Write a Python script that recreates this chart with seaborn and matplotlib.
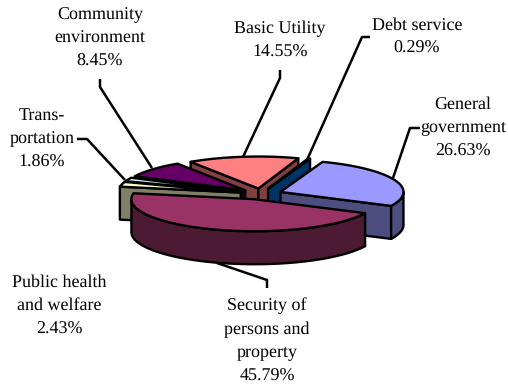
import numpy as np
import pandas as pd
import matplotlib
matplotlib.use("Agg")
import matplotlib.pyplot as plt
from matplotlib.patches import Polygon
import seaborn as sns

# Budget shares, in clockwise order from the back right of the pie
categories = ["General\ngovernment", "Security of\npersons and\nproperty",
              "Public health\nand welfare", "Trans-\nportation",
              "Community\nenvironment", "Basic Utility", "Debt service"]
shares = [26.63, 45.79, 2.43, 1.86, 8.45, 14.55, 0.29]
top_colors = ["#9999FF", "#993366", "#FFFFCC", "#CCFFFF", "#660066", "#FF8080", "#0066CC"]
side_colors = ["#4D4D80", "#4D1A33", "#808066", "#668080", "#330033", "#804040", "#003366"]

# Label anchors and leader lines, in pixels
label_xy = [(463, 128), (267, 341), (59, 306), (42, 139), (100, 38), (280, 41), (417, 37)]
leaders = [[(420, 128), (410, 128), (393, 178)],
           [(267, 288), (267, 280), (217, 263)],
           None,
           [(77, 139), (87, 139), (125, 180)],
           [(100, 79), (100, 87), (152, 168)],
           [(280, 70), (280, 78), (243, 157)],
           [(370, 37), (362, 37), (307, 160)]]

# Pie projection, in pixels
CX, CY, RX, RY, DEPTH = 261, 194, 123, 32, 33
EXPLODE_X, EXPLODE_Y = 21, 5.5
START_DEG = 20.0
LW = 1.7

sns.set_theme(style="white")
plt.rcParams["font.family"] = ["Liberation Serif"]
plt.rcParams["text.hinting"] = "no_hinting"

table = pd.DataFrame({"category": categories, "share": shares,
                      "top": top_colors, "side": side_colors})
edges = START_DEG + np.concatenate([[0], np.cumsum(table["share"])]) * 3.6
table["start"], table["stop"] = edges[:-1], edges[1:]

fig = plt.figure(figsize=(5.08, 3.89), dpi=100)
ax = fig.add_axes([0, 0, 1, 1])
ax.set_xlim(0, 508)
ax.set_ylim(389, 0)
ax.axis("off")


def rim(theta_deg, apex):
    t = np.radians(theta_deg)
    return np.column_stack([apex[0] + RX * np.sin(t), apex[1] - RY * np.cos(t)])


def draw_slice(row, z):
    mid = np.radians((row.start + row.stop) / 2)
    apex = np.array([CX + EXPLODE_X * np.sin(mid), CY - EXPLODE_Y * np.cos(mid)])
    down = np.array([0, DEPTH])
    style = dict(edgecolor="black", linewidth=LW, joinstyle="round", zorder=z)

    # cut faces toward the viewer
    for theta, sign in ((row.start, -1), (row.stop, 1)):
        t = np.radians(theta)
        if sign * -np.sin(t) < 0:
            p = rim(np.array([theta]), apex)[0]
            ax.add_patch(Polygon([apex, p, p + down, apex + down],
                                 facecolor=row.side, **style))

    # front part of the outer wall
    lo, hi = max(row.start, 90), min(row.stop, 270)
    if hi > lo:
        arc = rim(np.linspace(lo, hi, 80), apex)
        ax.add_patch(Polygon(np.vstack([arc, (arc + down)[::-1]]),
                             facecolor=row.side, **style))

    # top face
    arc = rim(np.linspace(row.start, row.stop, 120), apex)
    ax.add_patch(Polygon(np.vstack([[apex], arc]), facecolor=row.top, **style))


# painter's order, back slices first
for z, name in enumerate(["Basic Utility", "Community\nenvironment", "Debt service",
                          "Trans-\nportation", "Public health\nand welfare",
                          "General\ngovernment", "Security of\npersons and\nproperty"]):
    draw_slice(table[table["category"] == name].iloc[0], 3 + z)

for i, row in table.iterrows():
    ax.text(*label_xy[i], f"{row.category}\n{row.share:.2f}%", ha="center", va="center",
            fontsize=13, color="black", linespacing=1.57, zorder=20)
    if leaders[i] is not None:
        xs, ys = zip(*leaders[i])
        ax.plot(xs, ys, color="black", lw=1.8, zorder=2 if i == 1 else 15,
                solid_capstyle="butt", solid_joinstyle="round")

fig.savefig("out.png", dpi=100)
